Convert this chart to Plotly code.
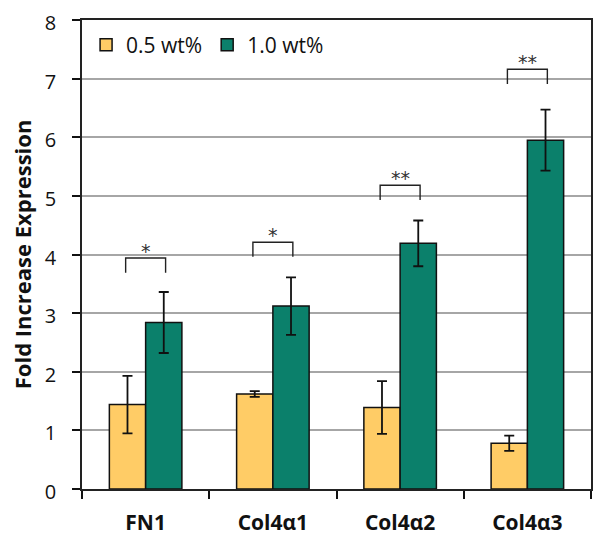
import plotly.graph_objects as go

categories = ["FN1", "Col4α1", "Col4α2", "Col4α3"]
series_names = ["0.5 wt%", "1.0 wt%"]
values_05 = [1.44, 1.62, 1.39, 0.78]
errors_05 = [0.49, 0.05, 0.45, 0.13]
values_10 = [2.84, 3.12, 4.19, 5.95]
errors_10 = [0.52, 0.49, 0.39, 0.52]
sig_labels = ["*", "*", "**", "**"]
sig_heights = [3.94, 4.21, 5.18, 7.16]
y_ticks = [0, 1, 2, 3, 4, 5, 6, 7, 8]
y_title = "Fold Increase Expression"

colors = ["#FFCC66", "#0B806B"]
FONT = "'Open Sans', Lato, sans-serif"

fig = go.Figure()
for name, vals, errs, col in [(series_names[0], values_05, errors_05, colors[0]),
                              (series_names[1], values_10, errors_10, colors[1])]:
    fig.add_trace(go.Bar(
        x=categories, y=vals, name=name,
        marker=dict(color=col, line=dict(color="#111111", width=1.5)),
        error_y=dict(type="data", array=errs, visible=True, color="#111111",
                     thickness=1.8, width=5),
    ))

half = 0.157
leg = 0.25
for i, (lab, h) in enumerate(zip(sig_labels, sig_heights)):
    fig.add_shape(type="path",
                  path=f"M {i-half},{h-leg} L {i-half},{h} L {i+half},{h} L {i+half},{h-leg}",
                  xref="x", yref="y", line=dict(color="#222222", width=1.4))
    fig.add_annotation(x=i, y=h, text=lab, showarrow=False, yanchor="bottom",
                       yshift=-6, font=dict(family="DejaVu Sans", size=19, color="#333333"))

# y-axis title as a rotated annotation so it can sit closer to the page edge
fig.add_annotation(xref="paper", yref="paper", x=-60 / 507, y=0.5, text=f"<b>{y_title}</b>",
                   textangle=-90, showarrow=False, xanchor="center", yanchor="middle",
                   font=dict(family=FONT, size=22, color="#111111"))

# page body has an 8px default margin, so the figure is sized to fit inside the window
fig.update_layout(
    width=586, height=530,
    margin=dict(l=74, r=3, t=12, b=49, autoexpand=False),
    paper_bgcolor="white", plot_bgcolor="white",
    barmode="group", bargap=0.43, bargroupgap=0,
    font=dict(family=FONT, size=18, color="#111111"),
    legend=dict(orientation="h", x=0.008, y=0.99, xanchor="left", yanchor="top",
                bgcolor="rgba(0,0,0,0)", font=dict(size=21), itemwidth=30,
                traceorder="normal"),
    showlegend=True,
)
fig.update_xaxes(
    type="category", showline=True, linecolor="#222222", linewidth=1.5,
    ticks="outside", tickson="boundaries", ticklen=8, tickcolor="#111111",
    tickwidth=1.5, mirror=True, showgrid=False, automargin=False,
    tickfont=dict(family=FONT, size=21, weight="bold"),
    ticklabelstandoff=14,
)
fig.update_yaxes(
    range=[0, 8], tickvals=y_ticks, showline=True, linecolor="#222222", linewidth=1.5,
    ticks="outside", ticklen=8, tickcolor="#111111", tickwidth=1.5, automargin=False,
    mirror=True, ticklabeloverflow="allow", ticklabelshift=3,
    showgrid=True, gridcolor="#A6A6A6", gridwidth=1.5, zeroline=False,
    tickfont=dict(family=FONT, size=20), ticklabelstandoff=12,
)

fig.write_html("out.html")
